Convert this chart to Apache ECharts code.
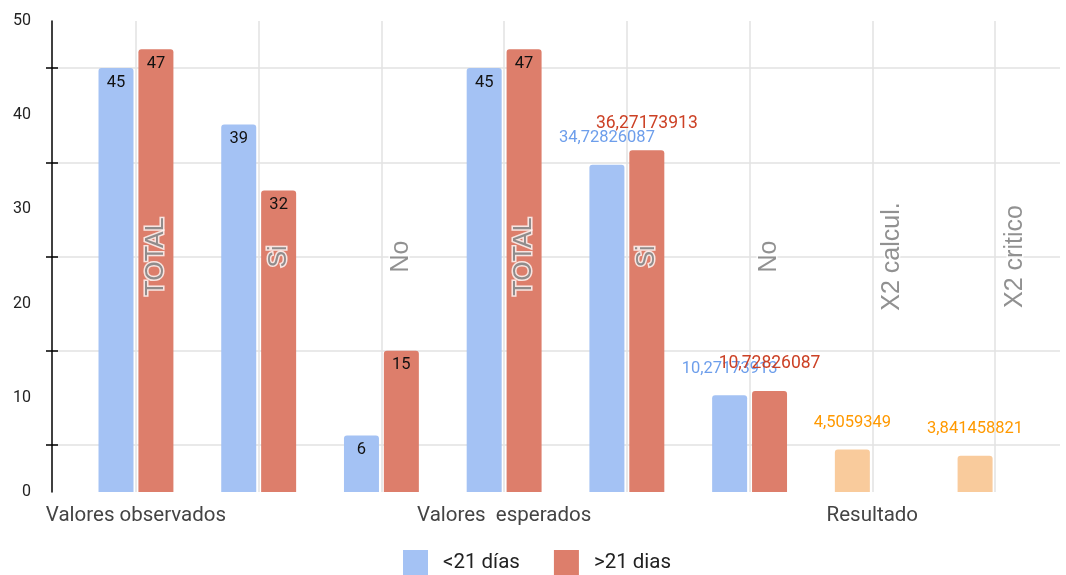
<!DOCTYPE html>
<html><head><meta charset="utf-8">
<script src="https://cdn.jsdelivr.net/npm/echarts@6/dist/echarts.min.js"></script>
<style>html,body{margin:0;padding:0;background:#fff}#c{width:1066px;height:575px}</style>
</head><body><div id="c"></div>
<script>
// ---- data ----
const categories = ['TOTAL', 'Si', 'No', 'TOTAL', 'Si', 'No', 'X2 calcul.', 'X2 critico'];
const groupLabels = ['Valores observados', '', '', 'Valores  esperados', '', '', 'Resultado', ''];
const seriesNames = ['<21 días', '>21 dias'];
const under21 = [45, 39, 6, 45, 34.72826087, 10.27173913, 4.5059349, 3.841458821];
const over21 = [47, 32, 15, 47, 36.27173913, 10.72826087, null, null];
const yTicks = [0, 10, 20, 30, 40, 50];
const nameLabelLevel = 25;

// ---- styles ----
const BLUE = '#a4c2f4', RED = '#dd7e6b', ORANGE = '#f9cb9c';
const BLUE_T = '#6d9eeb', RED_T = '#cc4125', ORANGE_T = '#ff9900';
const GRID_C = '#e2e2e2';
const insideLabelCount = 4;      // first four categories: value inside bar top
const resultStart = 6;           // Resultado categories drawn orange
const FONT = 'Roboto, "Liberation Sans", Arial, sans-serif';

const fmt = v => String(v).replace('.', ',');

function items(values, textColor, textSize) {
  return values.map((v, i) => {
    if (v === null) return null;
    const it = { value: v };
    if (i >= resultStart) it.itemStyle = { color: ORANGE };
    if (i < insideLabelCount) {
      it.label = { position: 'insideTop', distance: 6, color: '#111', fontSize: 16.5 };
    } else {
      it.label = { position: 'top', distance: 18, color: i >= resultStart ? ORANGE_T : textColor, fontSize: textSize };
    }
    return it;
  });
}

const yMin = yTicks[0], yMax = yTicks[yTicks.length - 1], yInt = yTicks[1] - yTicks[0];
const gTop = 21, gBottom = 83;

const chart = echarts.init(document.getElementById('c'));
chart.setOption({
  animation: false,
  textStyle: { fontFamily: FONT },
  grid: [
    { left: 52, right: 6, top: gTop, bottom: gBottom },        // axis + horizontal lines
    { left: 74.6, right: 9.6, top: gTop, bottom: gBottom },    // bars
    { left: 136, right: 71, top: gTop, bottom: gBottom }       // vertical lines at category centers
  ],
  xAxis: [
    { gridIndex: 0, type: 'category', data: categories, show: false },
    { gridIndex: 1, type: 'category', data: categories,
      axisLine: { show: false }, axisTick: { show: false }, splitLine: { show: false },
      axisLabel: { interval: 0, margin: 13, fontSize: 20.5, color: '#444',
        formatter: (v, i) => groupLabels[i] } },
    { gridIndex: 2, type: 'value', min: 0, max: categories.length - 1, interval: 1,
      axisLine: { show: false }, axisTick: { show: false }, axisLabel: { show: false },
      splitLine: { show: true, lineStyle: { color: GRID_C, width: 1.5 } } }
  ],
  yAxis: [
    { gridIndex: 0, type: 'value', position: 'left', min: yMin, max: yMax, interval: yInt,
      axisLine: { show: true, lineStyle: { color: '#000', width: 1.5 } },
      axisTick: { show: false },
      axisLabel: { margin: 21, fontSize: 16, color: '#222' },
      splitLine: { show: false },
      minorTick: { show: true, splitNumber: 2, length: 6, lineStyle: { color: '#000', width: 1.5 } },
      minorSplitLine: { show: true, lineStyle: { color: GRID_C, width: 1.5 } } },
    { gridIndex: 0, type: 'value', position: 'left', offset: 0, min: yMin, max: yMax, interval: yInt,
      axisLine: { show: false }, axisTick: { show: false, inside: true },
      axisLabel: { show: false }, splitLine: { show: false },
      minorTick: { show: true, splitNumber: 2, length: 6, lineStyle: { color: '#000', width: 1.5 } } },
    { gridIndex: 1, type: 'value', min: yMin, max: yMax, show: false, splitLine: { show: false } },
    { gridIndex: 2, type: 'value', min: yMin, max: yMax, show: false, splitLine: { show: false } }
  ],
  legend: {
    data: seriesNames, top: 545, left: 398, icon: 'rect',
    itemWidth: 25, itemHeight: 25, itemGap: 34,
    textStyle: { fontSize: 20.5, color: '#222', padding: [0, 0, 0, 10] }
  },
  series: [
    { name: seriesNames[0], type: 'bar', xAxisIndex: 1, yAxisIndex: 2,
      barWidth: 35, barGap: '14%',
      itemStyle: { color: BLUE, borderRadius: [3, 3, 0, 0] },
      label: { show: true, formatter: p => fmt(p.value) },
      data: items(under21, BLUE_T, 16.5) },
    { name: seriesNames[1], type: 'bar', xAxisIndex: 1, yAxisIndex: 2,
      barWidth: 35, barGap: '14%',
      itemStyle: { color: RED, borderRadius: [3, 3, 0, 0] },
      label: { show: true, formatter: p => fmt(p.value) },
      data: items(over21, RED_T, 17.5) },
    { name: 'names', type: 'scatter', xAxisIndex: 1, yAxisIndex: 2,
      symbolSize: 0, silent: true, z: 10,
      itemStyle: { color: 'transparent' },
      label: { show: true, position: 'inside', rotate: 90, offset: [0, 20],
        formatter: p => categories[p.dataIndex],
        fontFamily: '"Liberation Sans", Arial, sans-serif',
        fontSize: 25, color: '#757575', textBorderColor: '#fff', textBorderWidth: 3 },
      data: categories.map(() => nameLabelLevel) }
  ]
});
</script>
</body></html>
